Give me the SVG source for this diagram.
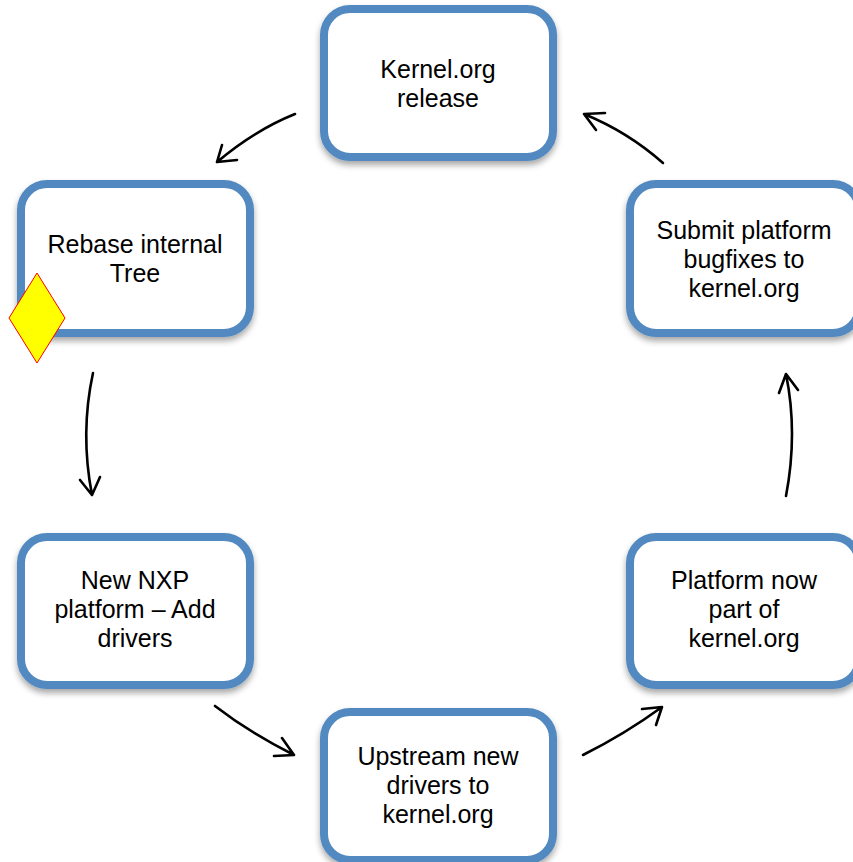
<svg xmlns="http://www.w3.org/2000/svg" width="853" height="862" viewBox="0 0 853 862">
<defs>
<filter id="sh" x="-10%" y="-10%" width="120%" height="125%">
<feDropShadow dx="0" dy="4" stdDeviation="3" flood-color="#000" flood-opacity="0.35"/>
</filter>
</defs>
<style>
.box{fill:#fff;stroke:#5189c0;stroke-width:8;filter:url(#sh)}
.t{font-family:"Liberation Sans",Arial,sans-serif;font-size:25px;fill:#000;text-anchor:middle}
.c{fill:none;stroke:#000;stroke-width:2.6;stroke-linecap:round;stroke-linejoin:round}
</style>
<rect width="853" height="862" fill="#fff"/>
<g id="n-kernel-release">
<rect class="box" x="324" y="9" width="229" height="148" rx="26"/>
<text class="t" x="438" y="78">Kernel.org<tspan x="438" dy="29">release</tspan></text>
</g>
<g id="n-rebase">
<rect class="box" x="21" y="184" width="229" height="149" rx="26"/>
<text class="t" x="135" y="253">Rebase internal<tspan x="135" dy="29">Tree</tspan></text>
<polygon points="37,273 65,318 37,363 9,318" fill="#ffff00" stroke="#ff0000" stroke-width="1"/>
</g>
<g id="n-submit">
<rect class="box" x="630" y="184" width="229" height="149" rx="26"/>
<text class="t" x="744" y="239">Submit platform<tspan x="744" dy="29">bugfixes to</tspan><tspan x="744" dy="29">kernel.org</tspan></text>
</g>
<g id="n-newnxp">
<rect class="box" x="21" y="537" width="229" height="148" rx="26"/>
<text class="t" x="135" y="589">New NXP<tspan x="135" dy="29">platform – Add</tspan><tspan x="135" dy="29">drivers</tspan></text>
</g>
<g id="n-platform">
<rect class="box" x="630" y="537" width="229" height="148" rx="26"/>
<text class="t" x="744" y="589">Platform now<tspan x="744" dy="29">part of</tspan><tspan x="744" dy="29">kernel.org</tspan></text>
</g>
<g id="n-upstream">
<rect class="box" x="324" y="712" width="229" height="148" rx="26"/>
<text class="t" x="438" y="765">Upstream new<tspan x="438" dy="29">drivers to</tspan><tspan x="438" dy="29">kernel.org</tspan></text>
</g>
<g id="connectors">
<path class="c" d="M295,114 Q255,130 217,162 M222,145 L217,162 L237,160"/>
<path class="c" d="M93,373 Q80,433 92,495 M80,480 L92,495 L100,477"/>
<path class="c" d="M215,706 Q250,733 294,755 M282,738 L294,755 L274,756"/>
<path class="c" d="M583,755 Q625,734 662,707 M642,709 L662,707 L656,725"/>
<path class="c" d="M786,496 Q798,433 786,374 M779,393 L786,374 L798,390"/>
<path class="c" d="M663,163 Q628,132 584,114 M605,113 L584,114 L596,130"/>
</g>
</svg>
